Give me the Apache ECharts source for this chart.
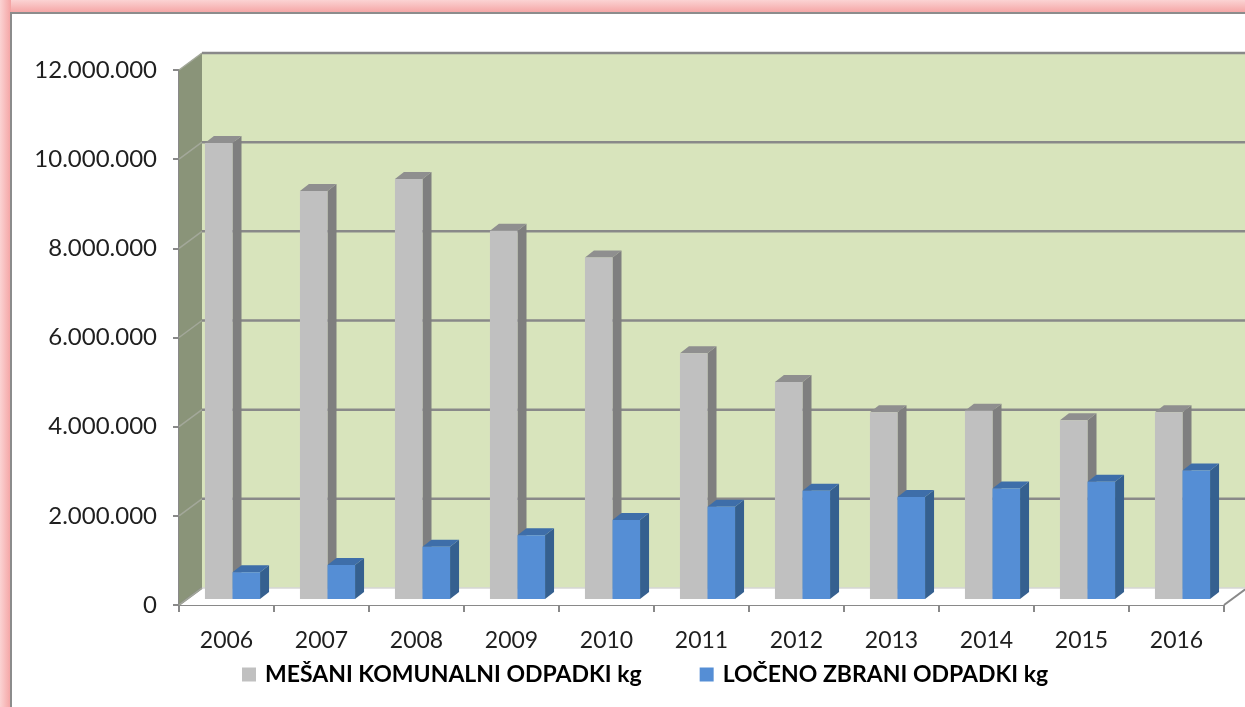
<!DOCTYPE html>
<html>
<head>
<meta charset="utf-8">
<style>
  html, body { margin: 0; padding: 0; background: #ffffff; }
  #chart { width: 1245px; height: 707px; }
</style>
<script src="https://cdn.jsdelivr.net/npm/echarts@6/dist/echarts.min.js"></script>
</head>
<body>
<div id="chart"></div>
<script>
// ---- data ----
const years = ['2006', '2007', '2008', '2009', '2010', '2011', '2012', '2013', '2014', '2015', '2016'];
const mesani = [10230000, 9150000, 9420000, 8260000, 7660000, 5510000, 4870000, 4190000, 4220000, 4010000, 4190000];
const loceno = [600000, 760000, 1170000, 1430000, 1770000, 2070000, 2430000, 2290000, 2480000, 2630000, 2880000];
const yTicks = [0, 2000000, 4000000, 6000000, 8000000, 10000000, 12000000];
const seriesNames = ['MEŠANI KOMUNALNI ODPADKI kg', 'LOČENO ZBRANI ODPADKI kg'];

// ---- style ----
const FONT = 'Lato';
const BACK_DX = 23, BACK_DY = -17;   // depth offset of back wall
const BAR_DX = 6, BAR_DY = -6;       // depth offset of bar plane
const DEP_DX = 9, DEP_DY = -7;       // bar depth
const colors = {
  gray: { front: '#c0c0c0', side: '#7f7f7f', top: '#8f8f8f' },
  blue: { front: '#558ed5', side: '#35608f', top: '#3e6ea9' }
};
const gridColor = '#898989';

function fmt(v) {
  return String(v).replace(/\B(?=(\d{3})+(?!\d))/g, '.');
}

function barRenderer(pal, side) {
  return function (params, api) {
    const i = api.value(0), v = api.value(1);
    const base = api.coord([i, 0]);
    const top = api.coord([i, v]);
    const catW = api.size([1, 0])[0];
    const w = catW * 0.29;
    const cx = base[0] + BAR_DX;
    const x0 = side < 0 ? cx - w : cx;
    const x1 = x0 + w;
    const yb = base[1] + BAR_DY;
    const yt = top[1] + BAR_DY;
    return {
      type: 'group',
      children: [
        { type: 'polygon', shape: { points: [[x1, yt], [x1 + DEP_DX, yt + DEP_DY], [x1 + DEP_DX, yb + DEP_DY], [x1, yb]] }, style: { fill: pal.side } },
        { type: 'polygon', shape: { points: [[x0, yt], [x1, yt], [x1 + DEP_DX, yt + DEP_DY], [x0 + DEP_DX, yt + DEP_DY]] }, style: { fill: pal.top } },
        { type: 'rect', shape: { x: x0, y: yt, width: w, height: yb - yt }, style: { fill: pal.front } }
      ]
    };
  };
}

const chart = echarts.init(document.getElementById('chart'), null, { renderer: 'canvas' });

const option = {
  animation: false,
  backgroundColor: '#ffffff',
  graphic: [
    { type: 'rect', z: -100, shape: { x: 0, y: 0, width: 1245, height: 13 },
      style: { fill: new echarts.graphic.LinearGradient(0, 0, 0, 1, [{ offset: 0, color: '#fbd3d3' }, { offset: 1, color: '#f4a3a3' }]) } },
    { type: 'rect', z: -100, shape: { x: 0, y: 0, width: 11, height: 707 },
      style: { fill: new echarts.graphic.LinearGradient(0, 0, 1, 0, [{ offset: 0, color: '#fbd3d3' }, { offset: 1, color: '#f4a3a3' }]) } },
    { type: 'rect', z: -99, shape: { x: 11, y: 13, width: 1240, height: 700 },
      style: { fill: '#ffffff', stroke: '#8c8c8c', lineWidth: 2 } }
  ],
  grid: { left: 179, right: 21, top: 70, bottom: 102, containLabel: false },
  legend: {
    left: 237, top: 658,
    itemWidth: 14, itemHeight: 14, itemGap: 58,
    textStyle: { fontFamily: FONT, fontWeight: 'bold', fontSize: 23, color: '#000000', padding: [0, 0, 0, 4] },
    data: [
      { name: seriesNames[0], icon: 'rect', itemStyle: { color: colors.gray.front } },
      { name: seriesNames[1], icon: 'rect', itemStyle: { color: colors.blue.front } }
    ]
  },
  xAxis: {
    type: 'category',
    data: years,
    boundaryGap: true,
    axisLine: { show: true, lineStyle: { color: gridColor, width: 2 } },
    axisTick: { show: true, interval: 0, length: 7, lineStyle: { color: gridColor, width: 2 } },
    axisLabel: { fontFamily: FONT, fontSize: 23, color: '#1f1f1f', margin: 24, interval: 0 },
    splitLine: { show: false }
  },
  yAxis: {
    type: 'value',
    min: 0, max: 12000000, interval: 2000000,
    axisLine: { show: true, lineStyle: { color: gridColor, width: 2 } },
    axisTick: { show: true, length: 6, lineStyle: { color: gridColor, width: 2 } },
    axisLabel: { fontFamily: FONT, fontSize: 24, color: '#1f1f1f', margin: 22, formatter: fmt },
    splitLine: { show: false }
  },
  series: [
    {
      // walls and floor
      type: 'custom', name: 'walls', silent: true, z: 1,
      data: [[0, 0]],
      renderItem: function (params, api) {
        const cs = params.coordSys;
        const L = cs.x, R = cs.x + cs.width, T = cs.y, B = cs.y + cs.height;
        return {
          type: 'group',
          children: [
            { type: 'polygon', shape: { points: [[L, B], [L, T], [L + BACK_DX, T + BACK_DY], [L + BACK_DX, B + BACK_DY]] }, style: { fill: '#8a9479' } },
            { type: 'rect', shape: { x: L + BACK_DX, y: T + BACK_DY, width: R - L + 10, height: B - T }, style: { fill: '#d8e4bc' } },
            { type: 'polygon', shape: { points: [[L, B], [R, B], [R + BACK_DX, B + BACK_DY], [L + BACK_DX, B + BACK_DY]] }, style: { fill: '#ffffff' } },
            { type: 'line', shape: { x1: L, y1: B, x2: L + BACK_DX, y2: B + BACK_DY }, style: { stroke: gridColor, lineWidth: 2 } },
            { type: 'line', shape: { x1: R, y1: B, x2: R + BACK_DX, y2: B + BACK_DY }, style: { stroke: gridColor, lineWidth: 2 } },
            { type: 'line', shape: { x1: L + BACK_DX, y1: B + BACK_DY, x2: R + BACK_DX + 10, y2: B + BACK_DY }, style: { stroke: '#d6d6d6', lineWidth: 1.5 } }
          ]
        };
      }
    },
    {
      // gridlines on side and back walls
      type: 'custom', name: 'gridlines', silent: true, z: 1,
      data: yTicks.map(function (t) { return [0, t]; }),
      encode: { x: 0, y: 1 },
      renderItem: function (params, api) {
        const cs = params.coordSys;
        const L = cs.x, R = cs.x + cs.width;
        const y = api.coord([0, api.value(1)])[1];
        const children = [
          { type: 'line', shape: { x1: L, y1: y, x2: L + BACK_DX, y2: y + BACK_DY }, style: { stroke: '#a3a89a', lineWidth: 1.5 } }
        ];
        if (api.value(1) > 0) {
          children.push({ type: 'line', shape: { x1: L + BACK_DX, y1: y + BACK_DY, x2: R + BACK_DX + 10, y2: y + BACK_DY }, style: { stroke: gridColor, lineWidth: 2.5 } });
        }
        return { type: 'group', children: children };
      }
    },
    {
      type: 'custom', name: seriesNames[0], z: 3,
      itemStyle: { color: colors.gray.front },
      data: mesani.map(function (v, i) { return [i, v]; }),
      encode: { x: 0, y: 1 },
      renderItem: barRenderer(colors.gray, -1)
    },
    {
      type: 'custom', name: seriesNames[1], z: 4,
      itemStyle: { color: colors.blue.front },
      data: loceno.map(function (v, i) { return [i, v]; }),
      encode: { x: 0, y: 1 },
      renderItem: barRenderer(colors.blue, 1)
    }
  ]
};

chart.setOption(option);
</script>
</body>
</html>
